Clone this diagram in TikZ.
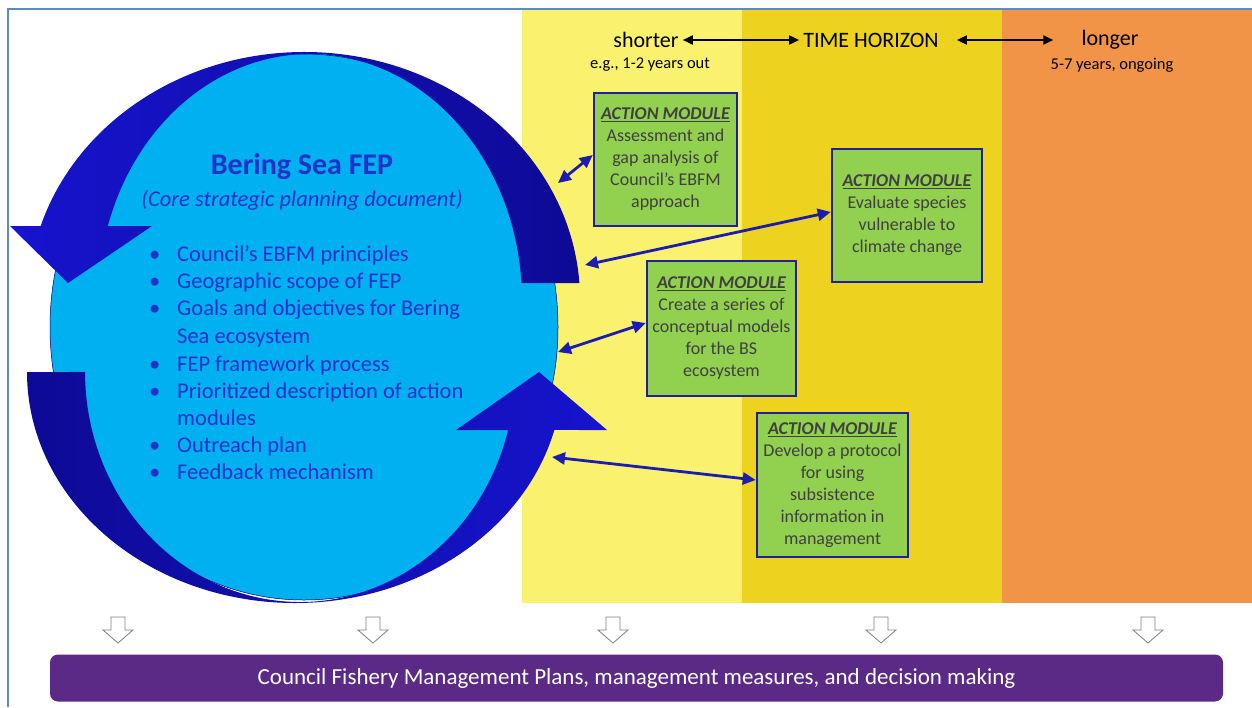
\documentclass[tikz,border=0pt]{standalone}
\usepackage{fontspec}
\setmainfont{Carlito}
\usetikzlibrary{arrows.meta}
\definecolor{lyellow}{HTML}{FAF26E}
\definecolor{gold}{HTML}{EED220}
\definecolor{orng}{HTML}{F29448}
\definecolor{lblue}{HTML}{00B0F0}
\definecolor{arcbright}{HTML}{1614CD}
\definecolor{arcdark}{HTML}{0E0A96}
\definecolor{fepblue}{HTML}{2032C8}
\definecolor{amgreen}{HTML}{92D050}
\definecolor{amborder}{HTML}{1F1FA0}
\definecolor{amtext}{HTML}{404040}
\definecolor{arrblue}{HTML}{1C1CB0}
\definecolor{barpurple}{HTML}{5A2A86}
\definecolor{framec}{HTML}{5B8AC8}
\newcommand{\amhead}{\textbf{\textit{\underline{ACTION MODULE}}}}
\begin{document}
\begin{tikzpicture}[x=1pt,y=1pt,
  amod/.style={draw=amborder, line width=2.5pt, fill=amgreen, align=center,
    inner sep=0pt, text=amtext, font=\fontsize{18}{22}\selectfont},
  amarrow/.style={draw=arrblue, line width=2.8pt,
    {Triangle[length=13pt,width=12pt]}-{Triangle[length=13pt,width=12pt]}},
  hdr/.style={font=\fontsize{22}{26}\selectfont, text=black, inner sep=4pt},
  hdrsub/.style={font=\fontsize{16.5}{19}\selectfont, text=black, inner sep=0pt},
  harrow/.style={draw=black, line width=1.8pt,
    {Triangle[length=10pt,width=9pt]}-{Triangle[length=10pt,width=9pt]}},
  bullettext/.style={font=\fontsize{22.5}{27}\selectfont, text=fepblue, anchor=base west, inner sep=0pt},
  downarr/.style={draw=gray, fill=white, line width=0.8pt},
  bar/.style={fill=barpurple, rounded corners=8pt, text=white, inner sep=0pt,
    minimum width=1173pt, minimum height=47pt, font=\fontsize{23}{27}\selectfont}
]
\useasboundingbox (0,0) rectangle (1252,-707);
\fill[white] (0,0) rectangle (1252,-707);
% time bands
\fill[lyellow] (522,-10) rectangle (742,-603);
\fill[gold] (742,-10) rectangle (1002,-603);
\fill[orng] (1002,-10) rectangle (1252,-603);
% frame
\draw[framec, line width=2pt] (8,-707) -- (8,-9) -- (1252,-9);
% header
\node[hdr] (short) at (646,-40) {shorter};
\node[hdrsub] (shortsub) at (650,-65) {e.g., 1-2 years out};
\node[hdr] (time) at (871,-40) {TIME HORIZON};
\node[hdr] (long) at (1110,-40) {longer};
\node[hdrsub] (longsub) at (1112,-65) {5-7 years, ongoing};
\draw[harrow] (short) -- (time);
\draw[harrow, shorten <=14pt, shorten >=24pt] (time) -- (long);
% FEP circle
\draw[fill=lblue, draw=blue!40!black, line width=0.5pt] (304,-327) ellipse [x radius=254, y radius=273];
% top curved arrow
\shade[left color=arcbright, right color=arcdark]
  (521.5,-283) -- (579.4,-283)
  arc[start angle=3.93, end angle=162.64, x radius=276, y radius=248]
  -- (10,-226) -- (68,-283) -- (152,-226) -- (107.8,-226)
  arc[start angle=162.49, end angle=3.96, x radius=212, y radius=246] -- cycle;
% bottom curved arrow
\shade[left color=arcdark, right color=arcbright]
  (27,-372)
  arc[start angle=180, end angle=345.46, x radius=268, y radius=231]
  -- (607,-430) -- (539,-372) -- (456,-430) -- (508.1,-430)
  arc[start angle=345.39, end angle=180, x radius=215, y radius=230] -- cycle;
% circle text
\node[font=\bfseries\fontsize{30}{36}\selectfont, text=fepblue] (title) at (302,-167) {Bering Sea FEP};
\node[font=\itshape\fontsize{22.5}{27}\selectfont, text=fepblue] (subtitle) at (302,-200) {(Core strategic planning document)};
\node[bullettext] (d1) at (149,-261) {•};
\node[bullettext] (l1) at (177,-261) {Council’s EBFM principles};
\node[bullettext] (d2) at (149,-288) {•};
\node[bullettext] (l2) at (177,-288) {Geographic scope of FEP};
\node[bullettext] (d3) at (149,-315) {•};
\node[bullettext] (l3) at (177,-315) {Goals and objectives for Bering};
\node[bullettext] (l3b) at (177,-343) {Sea ecosystem};
\node[bullettext] (d4) at (149,-371) {•};
\node[bullettext] (l4) at (177,-371) {FEP framework process};
\node[bullettext] (d5) at (149,-398) {•};
\node[bullettext] (l5) at (177,-398) {Prioritized description of action};
\node[bullettext] (l5b) at (177,-425) {modules};
\node[bullettext] (d6) at (149,-452) {•};
\node[bullettext] (l6) at (177,-452) {Outreach plan};
\node[bullettext] (d7) at (149,-479) {•};
\node[bullettext] (l7) at (177,-479) {Feedback mechanism};
% action modules
\node[amod, minimum width=143pt, minimum height=133pt] (m1) at (665.5,-159.5)
  {\amhead\\Assessment and\\gap analysis of\\Council’s EBFM\\approach};
\node[amod, minimum width=150pt, minimum height=133pt] (m2) at (907,-215.5)
  {\amhead\\Evaluate species\\vulnerable to\\climate change};
\node[amod, minimum width=149pt, minimum height=135pt] (m3) at (721.5,-328.5)
  {\amhead\\Create a series of\\conceptual models\\for the BS\\ecosystem};
\node[amod, minimum width=151pt, minimum height=144pt] (m4) at (832.5,-485)
  {\amhead\\Develop a protocol\\for using\\subsistence\\information in\\management};
% connector ends on the circle
\coordinate (c1) at (558,-183);
\coordinate (c2) at (585,-265);
\coordinate (c3) at (558,-352);
\coordinate (c4) at (552,-457);
\draw[amarrow] (c1) -- ([yshift=4.5pt]m1.west);
\draw[amarrow] (c2) -- ([yshift=3.5pt]m2.west);
\draw[amarrow] (c3) -- ([yshift=5.5pt]m3.west);
\draw[amarrow] (c4) -- ([yshift=5pt]m4.west);
% down arrows
\foreach \x in {118,373,613,881,1148}{
  \draw[downarr] (\x-7,-617) -- (\x+7,-617) -- (\x+7,-630) -- (\x+15,-630)
    -- (\x,-643) -- (\x-15,-630) -- (\x-7,-630) -- cycle;
}
% bottom bar
\node[bar] (fmp) at (636.5,-678) {Council Fishery Management Plans, management measures, and decision making};
\end{tikzpicture}
\end{document}
